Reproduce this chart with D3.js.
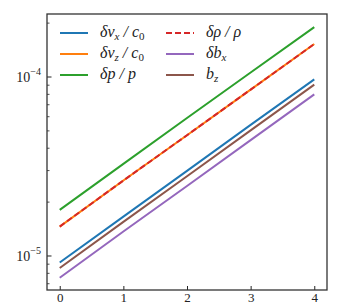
<!DOCTYPE html>
<html>
<head>
<meta charset="utf-8">
<script src="https://cdn.jsdelivr.net/npm/d3@7"></script>
<style>
  body { margin: 0; background: #fff; }
  text { font-family: "Liberation Serif", "DejaVu Serif", serif; fill: #222; }
</style>
</head>
<body>
<div id="chart"></div>
<script>
const w = 342, h = 307;
const m = {left: 47, right: 15, top: 14, bottom: 17};

// data
const times = [0, 1, 2, 3, 4];
const vx  = [9.2e-6, 1.66e-5, 2.99e-5, 5.4e-5, 9.7e-5];
const vz  = [1.46e-5, 2.64e-5, 4.73e-5, 8.5e-5, 1.53e-4];
const dp  = [1.81e-5, 3.27e-5, 5.9e-5, 1.06e-4, 1.90e-4];
const rho = [1.46e-5, 2.64e-5, 4.73e-5, 8.5e-5, 1.53e-4];
const bx  = [7.56e-6, 1.37e-5, 2.46e-5, 4.44e-5, 8.0e-5];
const bz  = [8.57e-6, 1.55e-5, 2.79e-5, 5.03e-5, 9.06e-5];
const xTicks = [0, 1, 2, 3, 4];
const yMajor = [1e-5, 1e-4];

// legend label parts: [text, kind] kind 0 = base, 1 = italic sub, 2 = upright sub
const series = [
  {vals: vx,  color: "#1f77b4", label: [["δv", 0], ["x", 1], [" / c", 0], ["0", 2]], col: 0, row: 0},
  {vals: vz,  color: "#ff7f0e", label: [["δv", 0], ["z", 1], [" / c", 0], ["0", 2]], col: 0, row: 1},
  {vals: dp,  color: "#2ca02c", label: [["δp / p", 0]], col: 0, row: 2},
  {vals: bx,  color: "#9467bd", label: [["δb", 0], ["x", 1]], col: 1, row: 1},
  {vals: bz,  color: "#8c564b", label: [["b", 0], ["z", 1]], col: 1, row: 2},
  {vals: rho, color: "#d62728", label: [["δρ / ρ", 0]], col: 1, row: 0, dash: "6,3"}
];

const svg = d3.select("#chart").append("svg").attr("width", w).attr("height", h);

const x = d3.scaleLinear().domain([-0.2, 4.2]).range([m.left, w - m.right]);
const y = d3.scaleLog().domain([Math.pow(10, -5.19), Math.pow(10, -3.648)]).range([h - m.bottom, m.top]);

const line = d3.line().x((d, i) => x(times[i])).y(d => y(d));

svg.selectAll("path.series")
  .data(series)
  .enter().append("path")
  .attr("class", "series")
  .attr("d", d => line(d.vals))
  .attr("fill", "none")
  .attr("stroke", d => d.color)
  .attr("stroke-width", 2)
  .attr("stroke-dasharray", d => d.dash || null);

// x axis
const xAxis = d3.axisBottom(x).tickValues(xTicks).tickSize(-4).tickPadding(3).tickFormat(d3.format("d"));
const gx = svg.append("g").attr("transform", "translate(0," + (h - m.bottom) + ")").call(xAxis);
gx.select(".domain").remove();
gx.selectAll("line").attr("stroke", "#222").attr("stroke-width", 1);
gx.selectAll("text").style("font-size", "13px").attr("fill", "#222");

// y axis, minor ticks
const minor = [];
for (let e = -6; e <= -3; e++) for (let k = 2; k <= 9; k++) {
  const v = k * Math.pow(10, e);
  if (v > y.domain()[0] && v < y.domain()[1]) minor.push(v);
}
svg.append("g").selectAll("line").data(minor).enter().append("line")
  .attr("x1", m.left).attr("x2", m.left + 2.5)
  .attr("y1", d => y(d)).attr("y2", d => y(d))
  .attr("stroke", "#222").attr("stroke-width", 0.8);

const gy = svg.append("g");
gy.selectAll("line").data(yMajor).enter().append("line")
  .attr("x1", m.left).attr("x2", m.left + 4.5)
  .attr("y1", d => y(d)).attr("y2", d => y(d))
  .attr("stroke", "#222").attr("stroke-width", 1);
const yl = gy.selectAll("text").data(yMajor).enter().append("text")
  .attr("x", m.left - 6).attr("y", d => y(d) + 5)
  .attr("text-anchor", "end").style("font-size", "14px");
yl.append("tspan").text("10");
yl.append("tspan").attr("dy", -7).style("font-size", "10px").text(d => "−" + Math.round(-Math.log10(d)));

// frame
svg.append("rect")
  .attr("x", m.left).attr("y", m.top)
  .attr("width", w - m.left - m.right).attr("height", h - m.top - m.bottom)
  .attr("fill", "none").attr("stroke", "#333").attr("stroke-width", 1.3);

// legend
const cols = [60, 166];
const rowY = [33, 54, 75];
const lg = svg.append("g").selectAll("g").data(series).enter().append("g")
  .attr("transform", d => "translate(" + cols[d.col] + "," + rowY[d.row] + ")");
lg.append("line").attr("x1", 0).attr("x2", 28).attr("y1", 0).attr("y2", 0)
  .attr("stroke", d => d.color).attr("stroke-width", 2)
  .attr("stroke-dasharray", d => d.dash || null);
const lt = lg.append("text").attr("x", 40).attr("y", 4)
  .style("font-size", "16px").style("font-style", "italic")
  .attr("xml:space", "preserve");
lt.each(function (d) {
  const t = d3.select(this);
  d.label.forEach((p, i) => {
    const s = t.append("tspan").text(p[0]);
    if (p[1] === 1) s.attr("dy", 3).style("font-size", "11px");
    else if (p[1] === 2) s.attr("dy", 3).style("font-size", "11px").style("font-style", "normal");
    else if (i > 0) s.attr("dy", -3);
  });
});
</script>
</body>
</html>
